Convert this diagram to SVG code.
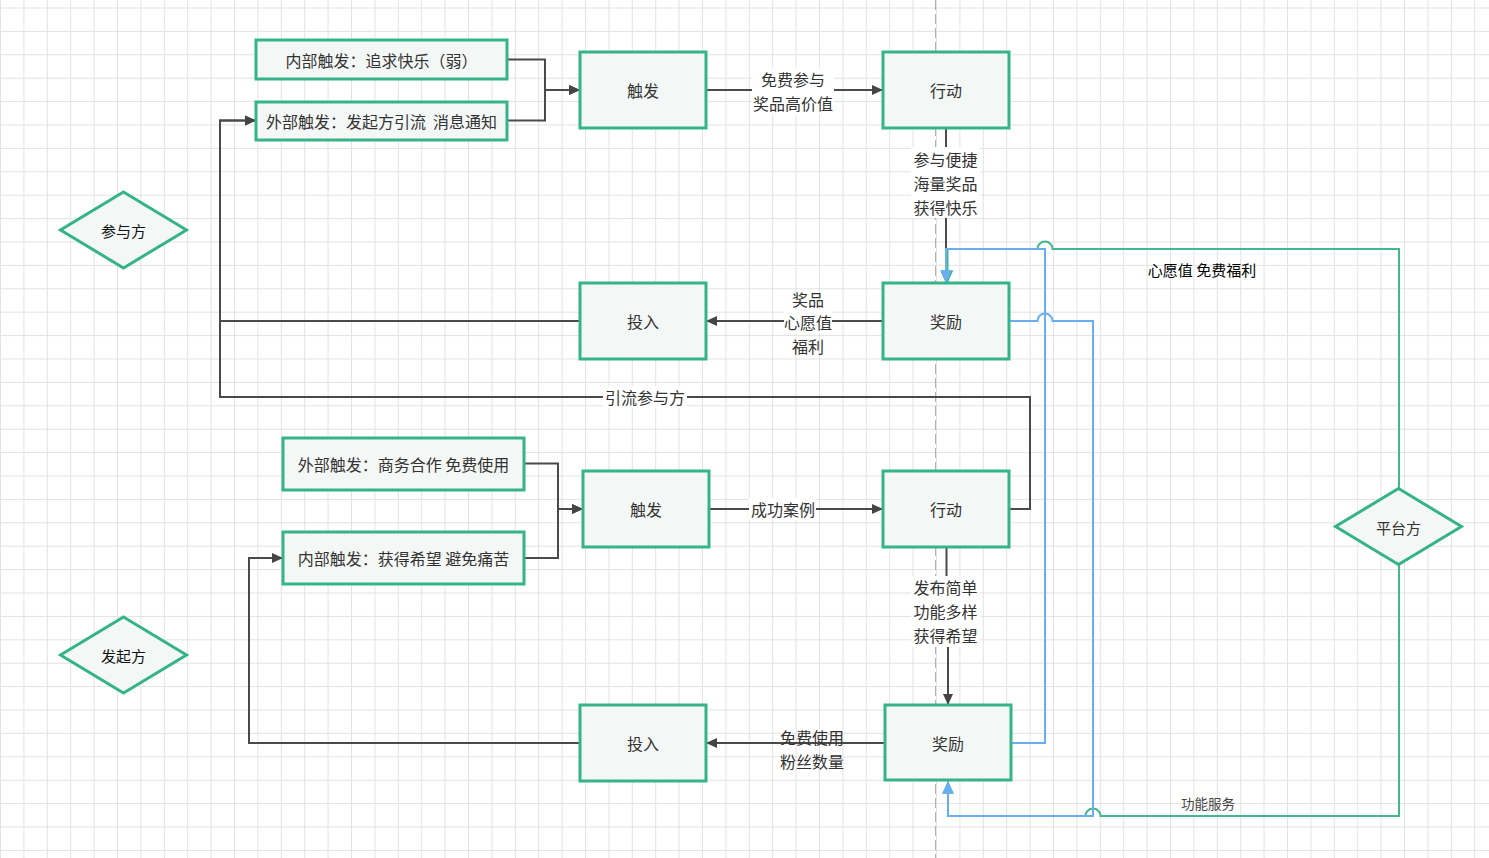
<svg xmlns="http://www.w3.org/2000/svg" width="1489" height="858" viewBox="0 0 1489 858">
<defs>
<pattern id="grid" patternUnits="userSpaceOnUse" x="0" y="7.5" width="23.4" height="23.4">
<path d="M0.5,0 V23.4 M0,0.5 H23.4" fill="none" stroke="#e2e2e2" stroke-width="1"/>
</pattern>
<marker id="arD" markerUnits="userSpaceOnUse" markerWidth="12" markerHeight="12" viewBox="0 0 12 12" refX="11" refY="6" orient="auto"><path d="M0,1 L11,6 L0,11 z" fill="#444"/></marker>
<marker id="arB" markerUnits="userSpaceOnUse" markerWidth="14" markerHeight="14" viewBox="0 0 12 12" refX="11" refY="6" orient="auto"><path d="M0,1 L11,6 L0,11 z" fill="#6aaef2"/></marker>
<marker id="arG" markerUnits="userSpaceOnUse" markerWidth="14" markerHeight="14" viewBox="0 0 12 12" refX="11" refY="6" orient="auto"><path d="M0,1 L11,6 L0,11 z" fill="#3fb68c"/></marker>
<style>
.box{fill:#f3f7f5;stroke:#35b38a;stroke-width:3}
.t{font-family:"Noto Sans CJK SC","Microsoft YaHei",sans-serif;font-size:16px;fill:#333;text-anchor:middle;dominant-baseline:central;white-space:pre}
.d{fill:none;stroke:#4a4a4a;stroke-width:2}
.g{fill:none;stroke:#43b88f;stroke-width:2}
.b{fill:none;stroke:#6aaef2;stroke-width:2}
.bg{fill:#fff}
</style>
</defs>
<rect width="1489" height="858" fill="#fff"/>
<rect width="1489" height="858" fill="url(#grid)"/>
<line x1="935.5" y1="0" x2="935.5" y2="858" stroke="#b0b0b0" stroke-width="1" stroke-dasharray="10 4"/>

<g id="connectors">
<path class="d" d="M507,59.5 H545 V90 H580" marker-end="url(#arD)"/>
<path class="d" d="M507,120.5 H545 V90 H580" marker-end="url(#arD)"/>
<path class="d" d="M706,90 H883" marker-end="url(#arD)"/>
<path class="d" d="M946,128 V283" marker-end="url(#arD)"/>
<path class="d" d="M883,321 H706" marker-end="url(#arD)"/>
<path class="d" d="M580,321 H220 V120.5 H256" marker-end="url(#arD)"/>
<path class="d" d="M1009,509 H1030 V397 H220 V120.5 H256" marker-end="url(#arD)"/>
<path class="d" d="M524,463.5 H558 V509 H583" marker-end="url(#arD)"/>
<path class="d" d="M524,558 H558 V509 H583" marker-end="url(#arD)"/>
<path class="d" d="M709,509 H883" marker-end="url(#arD)"/>
<path class="d" d="M946.5,547 V620 H948 V705" marker-end="url(#arD)"/>
<path class="d" d="M885,743 H706" marker-end="url(#arD)"/>
<path class="d" d="M580,743 H249 V558 H283" marker-end="url(#arD)"/>

<path class="g" d="M1399,488 V249 H1052.5 A7.5,7.5 0 0 0 1037.5,249 H947.5 V283" marker-end="url(#arG)"/>
<path class="g" d="M1399,565 V816 H1100.5 A7.5,7.5 0 0 0 1085.5,816 H948 V781" marker-end="url(#arG)"/>
<path class="b" d="M1011,743 H1045 V249 H946 V283" marker-end="url(#arB)"/>
<path class="b" d="M1009,321 H1037.5 A7.5,7.5 0 0 1 1052.5,321 H1093 V816 H948 V781" marker-end="url(#arB)"/>

<rect class="bg" x="752" y="68" width="82" height="47"/>
<text class="t" x="793" y="79">免费参与</text>
<text class="t" x="793" y="103">奖品高价值</text>
<rect class="bg" x="911" y="147" width="69" height="71"/>
<text class="t" x="945.5" y="159">参与便捷</text>
<text class="t" x="945.5" y="183">海量奖品</text>
<text class="t" x="945.5" y="207">获得快乐</text>
<rect class="bg" x="784" y="310" width="48" height="23"/>
<text class="t" x="808" y="299">奖品</text>
<text class="t" x="808" y="322">心愿值</text>
<text class="t" x="808" y="346">福利</text>
<rect class="bg" x="603" y="386" width="84" height="22"/>
<text class="t" x="645" y="397">引流参与方</text>
<rect class="bg" x="749" y="498" width="67" height="22"/>
<text class="t" x="783" y="509">成功案例</text>
<rect class="bg" x="911" y="576" width="69" height="71"/>
<text class="t" x="945.5" y="587">发布简单</text>
<text class="t" x="945.5" y="611">功能多样</text>
<text class="t" x="945.5" y="635">获得希望</text>
<text class="t" x="812" y="737">免费使用</text>
<text class="t" x="812" y="761">粉丝数量</text>
<text class="t" x="1202" y="269" style="font-size:15px;fill:#000">心愿值 免费福利</text>
<text class="t" x="1208" y="803" style="font-size:13.5px;fill:#444">功能服务</text>
</g>

<g id="n-inner1"><rect class="box" x="256" y="40" width="251" height="39"/><text class="t" x="381.5" y="60">内部触发：追求快乐（弱）</text></g>
<g id="n-outer1"><rect class="box" x="256" y="102" width="251" height="38"/><text class="t" x="381.5" y="121" xml:space="preserve">外部触发：发起方引流&#160;&#160;消息通知</text></g>
<g id="n-trigger1"><rect class="box" x="580" y="52" width="126" height="76"/><text class="t" x="643" y="90">触发</text></g>
<g id="n-action1"><rect class="box" x="883" y="52" width="126" height="76"/><text class="t" x="946" y="90">行动</text></g>
<g id="n-reward1"><rect class="box" x="883" y="283" width="126" height="76"/><text class="t" x="946" y="321">奖励</text></g>
<g id="n-invest1"><rect class="box" x="580" y="283" width="126" height="76"/><text class="t" x="643" y="321">投入</text></g>

<g id="n-outer2"><rect class="box" x="283" y="438" width="241" height="52"/><text class="t" x="403.5" y="464">外部触发：商务合作 免费使用</text></g>
<g id="n-inner2"><rect class="box" x="283" y="532" width="241" height="52"/><text class="t" x="403.5" y="558">内部触发：获得希望 避免痛苦</text></g>
<g id="n-trigger2"><rect class="box" x="583" y="471" width="126" height="76"/><text class="t" x="646" y="509">触发</text></g>
<g id="n-action2"><rect class="box" x="883" y="471" width="126" height="76"/><text class="t" x="946" y="509">行动</text></g>
<g id="n-reward2"><rect class="box" x="885" y="705" width="126" height="75"/><text class="t" x="948" y="743">奖励</text></g>
<g id="n-invest2"><rect class="box" x="580" y="705" width="126" height="76"/><text class="t" x="643" y="743">投入</text></g>

<g id="n-participant"><polygon class="box" points="123.5,192 186.5,230 123.5,268 60.5,230"/><text class="t" x="123.5" y="230" style="font-size:15px;fill:#111">参与方</text></g>
<g id="n-initiator"><polygon class="box" points="123.5,617 186.5,655 123.5,693 60.5,655"/><text class="t" x="123.5" y="655" style="font-size:15px;fill:#111">发起方</text></g>
<g id="n-platform"><polygon class="box" points="1398.5,488.5 1461.5,526.5 1398.5,564.5 1335.5,526.5"/><text class="t" x="1398.5" y="527" style="font-size:15px">平台方</text></g>
</svg>
